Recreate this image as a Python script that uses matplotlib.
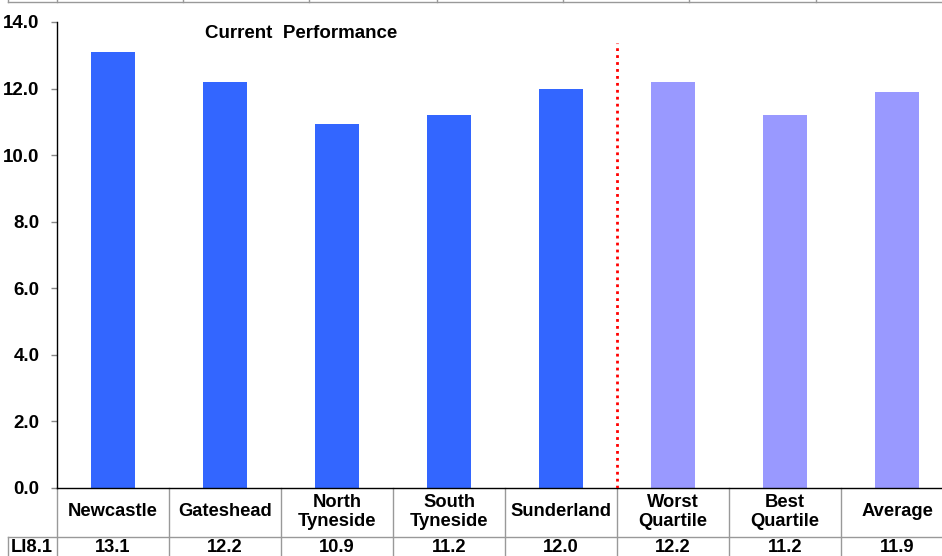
import matplotlib.pyplot as plt
from matplotlib.lines import Line2D
import numpy as np

plt.rcParams["font.family"] = ["Liberation Sans", "DejaVu Sans"]

categories = ["Newcastle", "Gateshead", "North\nTyneside", "South\nTyneside", "Sunderland",
              "Worst\nQuartile", "Best\nQuartile", "Average"]
values = [13.1, 12.2, 10.9, 11.2, 12.0, 12.2, 11.2, 11.9]
plot_values = [13.1, 12.2, 10.95, 11.2, 12.0, 12.2, 11.2, 11.9]
row_label = "LI8.1"
yticks = [0, 2, 4, 6, 8, 10, 12, 14]
colors = ["#3366ff"] * 5 + ["#9999ff"] * 3

W, H = 942, 556
fig = plt.figure(figsize=(W / 100, H / 100), dpi=100)
# axes runs past the right edge, like the original export
ax = fig.add_axes([57 / W, 68 / H, 896 / W, 466 / H])

x = np.arange(len(categories))
ax.bar(x, plot_values, width=0.4, color=colors, zorder=2)
ax.set_xlim(-0.5, len(categories) - 0.5)
ax.set_ylim(0, 14)
ax.set_yticks(yticks)
ax.set_yticklabels([f"{v:.1f}" for v in yticks], fontsize=13.5, fontweight="bold")
ax.tick_params(axis="y", direction="out", length=4, width=1, color="#888888", pad=8.5)
ax.set_xticks([])
for s in ["top", "right"]:
    ax.spines[s].set_visible(False)
ax.spines["left"].set_linewidth(1)
ax.spines["bottom"].set_linewidth(1)

# split between authorities and comparison groups
ax.plot([4.5, 4.5], [0, 13.37], color="red", linestyle=(0, (1, 1.5)), linewidth=2, zorder=3)

ax.text(0.82, 13.66, "Current  Performance", fontsize=13.5, fontweight="bold", va="center", ha="left")

# data table under the axis
tr = ax.get_xaxis_transform()
gray = "#999999"
for i, (c, v) in enumerate(zip(categories, values)):
    ax.text(i, -0.0515, c, transform=tr, ha="center", va="center", fontsize=13.2,
            fontweight="bold", linespacing=1.2, clip_on=False)
    ax.text(i, -0.1275, f"{v:.1f}", transform=tr, ha="center", va="center", fontsize=13.2,
            fontweight="bold", clip_on=False)
for b in np.arange(0.5, len(categories)):
    ax.plot([b, b], [0, -0.2], transform=tr, color=gray, linewidth=1, clip_on=False)
ax.plot([-0.5, -0.5], [0, -0.2], transform=tr, color=gray, linewidth=1, clip_on=False)

# value row border and row label, in figure pixels
def px(xp, yp):
    return xp / W, 1 - yp / H

fig.add_artist(Line2D(*zip(px(8, 537), px(W, 537)), color=gray, linewidth=1))
fig.add_artist(Line2D(*zip(px(8, 537), px(8, H)), color=gray, linewidth=1))
fig.text(*px(32, 547.5), row_label, ha="center", va="center", fontsize=13.2, fontweight="bold")

# strip of the table above, cut off by the export
fig.add_artist(Line2D(*zip(px(8, 1.5), px(W, 1.5)), color=gray, linewidth=1))
for xp in [8, 57, 183, 309, 437, 563, 689, 816]:
    fig.add_artist(Line2D(*zip(px(xp, 0), px(xp, 2)), color=gray, linewidth=1))

fig.savefig("out.png", dpi=100)
